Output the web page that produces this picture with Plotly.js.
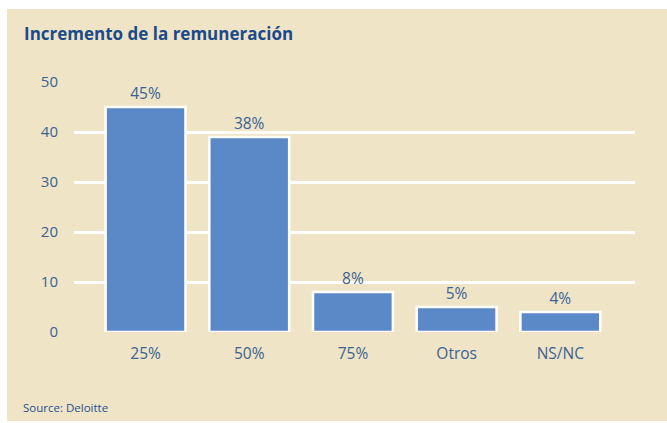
<!DOCTYPE html>
<html>
<head>
<meta charset="utf-8">
<script src="https://cdn.plot.ly/plotly-3.0.1.min.js"></script>
<style>
html,body{margin:0;padding:0;background:#ffffff;}
#wrap{position:relative;width:667px;height:423px;overflow:hidden;}
#bg{position:absolute;left:7px;top:9px;width:660px;height:412px;background:#f0e4c7;}
#chart{position:absolute;left:0;top:0;width:667px;height:423px;}
</style>
</head>
<body>
<div id="wrap"><div id="bg"></div><div id="chart"></div></div>
<script>
const categories = ["25%", "50%", "75%", "Otros", "NS/NC"];
const values = [45, 39, 8, 5, 4];
const valueLabels = ["45%", "38%", "8%", "5%", "4%"];
const yTicks = [0, 10, 20, 30, 40, 50];

const fontFam = "Open Sans, Noto Sans, sans-serif";
const trace = {
  type: "bar",
  x: categories,
  y: values,
  text: valueLabels,
  textposition: "outside",
  texttemplate: "%{text}",
  cliponaxis: false,
  textfont: {family: fontFam, size: 15.5, color: "#3a6294"},
  width: 0.77,
  marker: {color: "#5b88c6", line: {color: "#ffffff", width: 2.5}},
  hoverinfo: "none"
};

const layout = {
  width: 667,
  height: 423,
  margin: {l: 74, r: 32, t: 82, b: 91},
  paper_bgcolor: "rgba(0,0,0,0)",
  plot_bgcolor: "rgba(0,0,0,0)",
  showlegend: false,
  xaxis: {
    type: "category",
    range: [-0.69, 4.72],
    showgrid: false,
    zeroline: false,
    showline: false,
    ticks: "",
    ticklabelstandoff: 10,
    tickfont: {family: fontFam, size: 15.5, color: "#3a6294"}
  },
  yaxis: {
    range: [0, 50],
    tickvals: yTicks,
    showgrid: true,
    gridcolor: "#ffffff",
    gridwidth: 3,
    zeroline: false,
    showline: false,
    ticks: "",
    ticklabelstandoff: 15,
    tickfont: {family: fontFam, size: 15, color: "#3a6294"}
  },
  annotations: [
    {text: "<b>Incremento de la remuneración</b>", xref: "paper", yref: "paper",
     xanchor: "left", yanchor: "middle", showarrow: false,
     font: {family: fontFam, size: 17, color: "#1a4a8a"}},
    {text: "Source: Deloitte", xref: "paper", yref: "paper",
     xanchor: "left", yanchor: "middle", showarrow: false,
     font: {family: fontFam, size: 11.5, color: "#1f4f8f"}}
  ]
};

// place title/source at pixel positions via paper coords
const plotW = 667 - 74 - 32, plotH = 423 - 82 - 91;
layout.annotations[0].x = (22 - 74) / plotW;
layout.annotations[0].y = (423 - 91 - 33) / plotH;
layout.annotations[1].x = (21 - 74) / plotW;
layout.annotations[1].y = (423 - 91 - 407) / plotH;

Plotly.newPlot("chart", [trace], layout, {displayModeBar: false, staticPlot: true});
</script>
</body>
</html>
